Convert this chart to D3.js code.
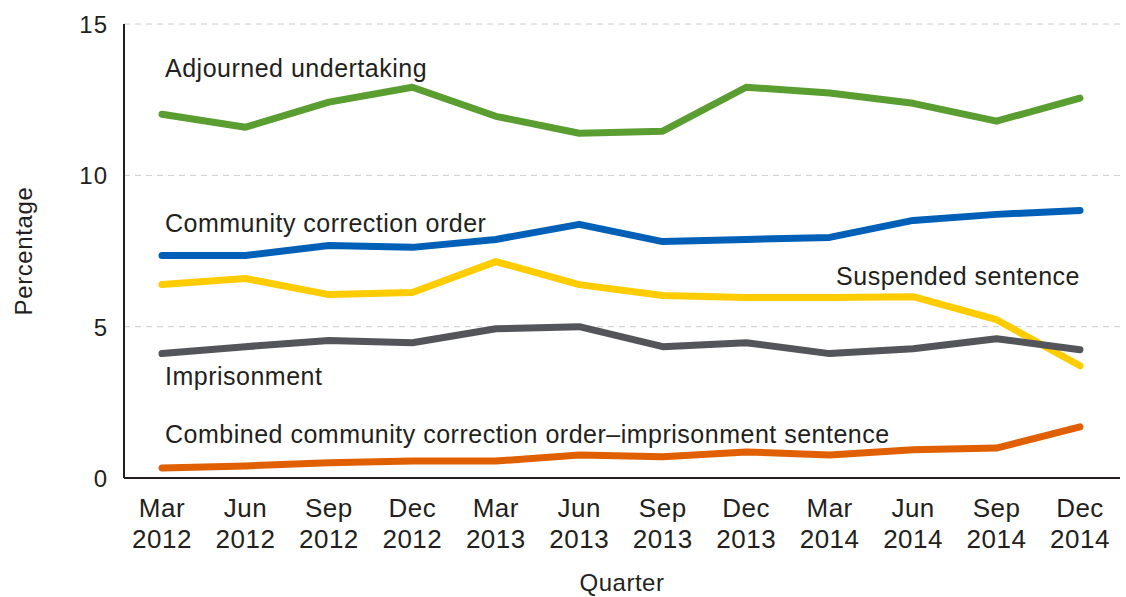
<!DOCTYPE html>
<html>
<head>
<meta charset="utf-8">
<script src="https://cdn.jsdelivr.net/npm/d3@7"></script>
<style>
  body { margin: 0; background: #fff; }
  text { font-family: "Liberation Sans", Arial, sans-serif; fill: #231f20; }
</style>
</head>
<body>
<script>
const quarters = ["Mar 2012", "Jun 2012", "Sep 2012", "Dec 2012", "Mar 2013", "Jun 2013",
                  "Sep 2013", "Dec 2013", "Mar 2014", "Jun 2014", "Sep 2014", "Dec 2014"];
const yTicks = [0, 5, 10, 15];

const adjourned = [12.02, 11.59, 12.42, 12.91, 11.95, 11.39, 11.46, 12.91, 12.72, 12.38, 11.79, 12.55];
const cco = [7.35, 7.35, 7.68, 7.62, 7.88, 8.38, 7.81, 7.88, 7.95, 8.51, 8.71, 8.84];
const suspended = [6.39, 6.59, 6.06, 6.13, 7.15, 6.39, 6.03, 5.96, 5.96, 5.99, 5.23, 3.71];
const imprisonment = [4.11, 4.34, 4.54, 4.47, 4.93, 5.0, 4.34, 4.47, 4.11, 4.27, 4.60, 4.24];
const combined = [0.33, 0.40, 0.50, 0.56, 0.56, 0.76, 0.70, 0.86, 0.76, 0.93, 0.99, 1.69];

const series = [
  {name: "Adjourned undertaking", values: adjourned, color: "#5a9e32", ly: 77, anchor: "start"},
  {name: "Community correction order", values: cco, color: "#0060b8", ly: 232, anchor: "start"},
  {name: "Suspended sentence", values: suspended, color: "#ffcc00", ly: 285, anchor: "end"},
  {name: "Imprisonment", values: imprisonment, color: "#54555a", ly: 385, anchor: "start"},
  {name: "Combined community correction order\u2013imprisonment sentence", values: combined, color: "#e06000", ly: 443, anchor: "start"}
];

const W = 1126, H = 597;
const m = {top: 24, bottom: 119, left: 124, right: 6};
const w = W - m.left - m.right;
const h = H - m.top - m.bottom;

const svg = d3.select("body")
    .append("svg")
    .attr("width", W)
    .attr("height", H);

const g = svg.append("g")
    .attr("transform", `translate(${m.left}, ${m.top})`);

const x = d3.scalePoint()
    .domain(quarters)
    .range([38, 956]);

const y = d3.scaleLinear()
    .domain([0, 15])
    .range([h, 0]);

// gridlines
g.selectAll(".grid")
    .data(yTicks.filter(d => d > 0))
    .enter()
    .append("line")
    .attr("x1", 0)
    .attr("x2", w)
    .attr("y1", d => y(d))
    .attr("y2", d => y(d))
    .attr("stroke", "#cccccc")
    .attr("stroke-width", 1)
    .attr("stroke-dasharray", "6,5");

// y tick labels
g.selectAll(".ylab")
    .data(yTicks)
    .enter()
    .append("text")
    .attr("x", -16)
    .attr("y", d => y(d) + 9)
    .attr("text-anchor", "end")
    .attr("font-size", 24)
    .attr("letter-spacing", 1)
    .text(d => d);

// axis lines
g.append("line")
    .attr("x1", 0).attr("x2", 0)
    .attr("y1", 0).attr("y2", h)
    .attr("stroke", "#231f20").attr("stroke-width", 2);
g.append("line")
    .attr("x1", 0).attr("x2", w)
    .attr("y1", h).attr("y2", h)
    .attr("stroke", "#231f20").attr("stroke-width", 2);

// x tick labels
const xl = g.selectAll(".xlab")
    .data(quarters)
    .enter()
    .append("text")
    .attr("text-anchor", "middle")
    .attr("font-size", 26)
    .attr("letter-spacing", 0.5)
    .attr("x", d => x(d));
xl.append("tspan").attr("x", d => x(d)).attr("y", h + 39).text(d => d.split(" ")[0]);
xl.append("tspan").attr("x", d => x(d)).attr("y", h + 70).text(d => d.split(" ")[1]);

// axis titles
svg.append("text")
    .attr("transform", "translate(32, 251) rotate(-90)")
    .attr("text-anchor", "middle")
    .attr("font-size", 24)
    .attr("letter-spacing", 0.6)
    .text("Percentage");
svg.append("text")
    .attr("x", 622)
    .attr("y", 591)
    .attr("text-anchor", "middle")
    .attr("font-size", 24)
    .attr("letter-spacing", 0.5)
    .text("Quarter");

const line = d3.line()
    .x((d, i) => x(quarters[i]))
    .y(d => y(d));

g.selectAll(".series")
    .data(series)
    .enter()
    .append("path")
    .attr("d", d => line(d.values))
    .attr("fill", "none")
    .attr("stroke", d => d.color)
    .attr("stroke-width", 7)
    .attr("stroke-linecap", "round")
    .attr("stroke-linejoin", "round");

g.selectAll(".label")
    .data(series)
    .enter()
    .append("text")
    .attr("x", d => d.anchor === "end" ? x(quarters[quarters.length - 1]) : x(quarters[0]) + 3)
    .attr("y", d => d.ly - m.top)
    .attr("text-anchor", d => d.anchor)
    .attr("font-size", 25)
    .attr("letter-spacing", 0.5)
    .text(d => d.name);
</script>
</body>
</html>
